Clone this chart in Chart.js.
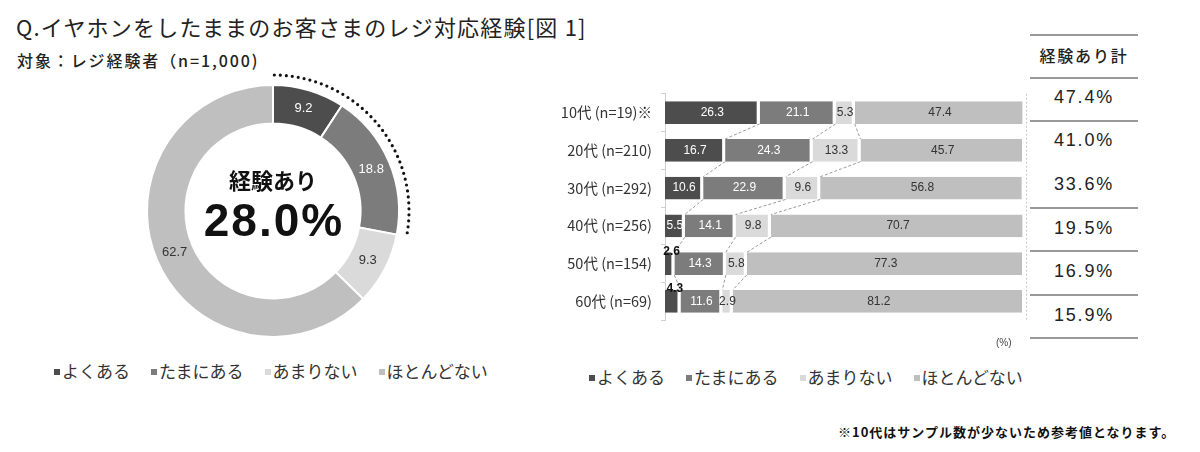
<!DOCTYPE html>
<html lang="ja">
<head>
<meta charset="utf-8">
<script src="https://cdn.jsdelivr.net/npm/chart.js@4/dist/chart.umd.min.js"></script>
<style>
  html, body { margin: 0; padding: 0; background: #fff; }
  body { width: 1200px; height: 452px; position: relative; overflow: hidden;
         font-family: "Noto Sans CJK JP", "Noto Sans", sans-serif; color: #222; }
  .abs { position: absolute; white-space: nowrap; }
  #title { left: 16px; top: 11px; font-size: 22px; line-height: 30px; letter-spacing: 1.2px; color: #222; }
  #subtitle { left: 17px; top: 50px; font-size: 16px; line-height: 20px; font-weight: 500; letter-spacing: 1.9px; }
  .legend { font-size: 17px; line-height: 22px; color: #333; }
  .legend span.sq { display: inline-block; width: 6px; height: 6px; margin-right: 2px; vertical-align: middle; position: relative; top: -1px; }
  .legend span.it { margin-right: 21px; }
  #tbl .line { position: absolute; left: 1030px; width: 108px; height: 0; border-top: 2px solid #999; }
  .cell { position: absolute; left: 1030px; width: 108px; text-align: center; font-family: "Liberation Sans", Arial, sans-serif; font-size: 18px; letter-spacing: 1.8px; color: #222; }
  #hdr { font-family: "Noto Sans CJK JP", sans-serif; font-size: 16px; font-weight: 500; letter-spacing: 1.8px; }
  #note { left: 838px; top: 422px; font-size: 13px; font-weight: 700; letter-spacing: 1px; color: #111; }
  #pct { left: 996px; top: 337px; font-size: 10px; color: #444; font-family: "Liberation Sans", Arial, sans-serif; }
</style>
</head>
<body>
<div id="title" class="abs">Q.イヤホンをしたままのお客さまのレジ対応経験[図 1]</div>
<div id="subtitle" class="abs">対象：レジ経験者（n=1,000)</div>

<canvas id="donut" class="abs" width="284" height="284" style="left:131px;top:69px;"></canvas>
<canvas id="bars" class="abs" width="490" height="262" style="left:540px;top:76px;"></canvas>

<div id="legL" class="abs legend" style="left:54px;top:360px;"></div>
<div id="legR" class="abs legend" style="left:589px;top:366px;"></div>

<div id="tbl"></div>
<div id="pct" class="abs">(%)</div>
<div id="note" class="abs">※10代はサンプル数が少ないため参考値となります。</div>

<script>
// ---------------- DATA ----------------
const seriesNames = ["よくある", "たまにある", "あまりない", "ほとんどない"];
const seriesColors = ["#4d4d4d", "#7c7c7c", "#dadada", "#bfbfbf"];

const totalValues = [9.2, 18.8, 9.3, 62.7];
const centerLabel = "経験あり";
const centerValue = "28.0%";

const ageLabels = ["10代 (n=19)※", "20代 (n=210)", "30代 (n=292)", "40代 (n=256)", "50代 (n=154)", "60代 (n=69)"];
const oftenValues     = [26.3, 16.7, 10.6, 5.5, 2.6, 4.3];
const sometimesValues = [21.1, 24.3, 22.9, 14.1, 14.3, 11.6];
const rarelyValues    = [5.3, 13.3, 9.6, 9.8, 5.8, 2.9];
const neverValues     = [47.4, 45.7, 56.8, 70.7, 77.3, 81.2];

const tableHeader = "経験あり計";
const experienceTotals = ["47.4%", "41.0%", "33.6%", "19.5%", "16.9%", "15.9%"];

// ---------------- LEGENDS ----------------
function buildLegend(id) {
  const el = document.getElementById(id);
  seriesNames.forEach((n, i) => {
    const it = document.createElement('span');
    it.className = 'it';
    it.innerHTML = '<span class="sq" style="background:' + seriesColors[i] + '"></span>' + n;
    el.appendChild(it);
  });
}
buildLegend('legL');
buildLegend('legR');

// ---------------- DONUT ----------------
const donutPlugin = {
  id: 'donutExtras',
  afterDatasetsDraw(chart) {
    const ctx = chart.ctx;
    const meta = chart.getDatasetMeta(0);
    const arcs = meta.data;
    ctx.save();
    ctx.font = '13px "Liberation Sans", Arial, sans-serif';
    ctx.textAlign = 'center';
    ctx.textBaseline = 'middle';
    arcs.forEach((a, i) => {
      const mid = (a.startAngle + a.endAngle) / 2;
      const r = (a.innerRadius + a.outerRadius) / 2;
      const x = a.x + Math.cos(mid) * r;
      const y = a.y + Math.sin(mid) * r;
      ctx.fillStyle = i < 2 ? '#ffffff' : '#333333';
      ctx.fillText(totalValues[i].toFixed(1), x, y);
    });
    const a0 = arcs[0], a1 = arcs[1];
    ctx.beginPath();
    ctx.setLineDash([0, 6]);
    ctx.lineCap = 'round';
    ctx.lineWidth = 3.2;
    ctx.strokeStyle = '#111';
    ctx.arc(a0.x, a0.y, a0.outerRadius + 10, a0.startAngle + 0.01, a1.endAngle - 0.02);
    ctx.stroke();
    ctx.setLineDash([]);
    ctx.fillStyle = '#111';
    ctx.font = 'bold 22px "Noto Sans CJK JP", sans-serif';
    ctx.fillText(centerLabel, a0.x, a0.y - 30);
    ctx.font = 'bold 46px "Liberation Sans", Arial, sans-serif';
    try { ctx.letterSpacing = '2px'; } catch (e) {}
    ctx.fillText(centerValue, a0.x + 1, a0.y + 12);
    ctx.restore();
  }
};

new Chart(document.getElementById('donut'), {
  type: 'doughnut',
  data: {
    labels: seriesNames,
    datasets: [{
      data: totalValues,
      backgroundColor: seriesColors,
      borderColor: '#ffffff',
      borderWidth: 2
    }]
  },
  options: {
    responsive: false,
    animation: false,
    radius: 126,
    cutout: 98,
    plugins: { legend: { display: false }, tooltip: { enabled: false } }
  },
  plugins: [donutPlugin]
});

// ---------------- STACKED BARS ----------------
const barSeries = [oftenValues, sometimesValues, rarelyValues, neverValues];

const barPlugin = {
  id: 'barExtras',
  afterDatasetsDraw(chart) {
    const ctx = chart.ctx;
    const xs = chart.scales.x;
    const area = chart.chartArea;
    ctx.save();
    ctx.strokeStyle = '#9a9a9a';
    ctx.lineWidth = 1;
    ctx.setLineDash([3, 2]);
    for (let k = 0; k < 3; k++) {
      const metaK = chart.getDatasetMeta(k);
      for (let i = 0; i < ageLabels.length - 1; i++) {
        let c1 = 0, c2 = 0;
        for (let j = 0; j <= k; j++) { c1 += barSeries[j][i]; c2 += barSeries[j][i + 1]; }
        const b1 = metaK.data[i], b2 = metaK.data[i + 1];
        ctx.beginPath();
        ctx.moveTo(xs.getPixelForValue(c1), b1.y + b1.height / 2);
        ctx.lineTo(xs.getPixelForValue(c2), b2.y - b2.height / 2);
        ctx.stroke();
      }
    }
    ctx.strokeStyle = '#c8c8c8';
    ctx.setLineDash([2, 2]);
    ctx.beginPath();
    const xr = xs.getPixelForValue(100) + 1.5;
    ctx.moveTo(xr, area.top);
    ctx.lineTo(xr, area.bottom);
    ctx.stroke();
    ctx.setLineDash([]);
    ctx.textAlign = 'center';
    ctx.textBaseline = 'middle';
    barSeries.forEach((vals, k) => {
      const meta = chart.getDatasetMeta(k);
      meta.data.forEach((bar, i) => {
        const v = vals[i];
        const cx = (bar.x + bar.base) / 2;
        if (k === 0 && v < 5) {
          ctx.font = 'bold 12px "Liberation Sans", Arial, sans-serif';
          ctx.fillStyle = '#111';
          ctx.fillText(v.toFixed(1), cx + 2, bar.y - bar.height / 2 - 1);
        } else {
          ctx.font = '12px "Liberation Sans", Arial, sans-serif';
          ctx.fillStyle = k < 2 ? '#ffffff' : '#333333';
          ctx.fillText(v.toFixed(1), cx, bar.y);
        }
      });
    });
    ctx.restore();
  }
};

new Chart(document.getElementById('bars'), {
  type: 'bar',
  data: {
    labels: ageLabels,
    datasets: barSeries.map((vals, k) => ({
      label: seriesNames[k],
      data: vals,
      backgroundColor: seriesColors[k],
      borderColor: '#ffffff',
      borderWidth: { left: 0, top: 0, bottom: 0, right: 3 },
      borderSkipped: false,
      barPercentage: 1,
      categoryPercentage: 0.6
    }))
  },
  options: {
    indexAxis: 'y',
    responsive: false,
    animation: false,
    layout: { padding: { left: 0, right: 5, top: 0, bottom: 0 } },
    scales: {
      x: { stacked: true, min: 0, max: 100, display: false },
      y: {
        stacked: true,
        afterFit(scale) { scale.width = 125; },
        grid: { display: true, drawOnChartArea: false, drawTicks: true, tickLength: 4, offset: true, color: '#d0d0d0' },
        border: { display: true, color: '#d0d0d0' },
        ticks: {
          padding: 9,
          color: '#333',
          font: { family: '"Noto Sans CJK JP", sans-serif', size: 14.5 }
        }
      }
    },
    plugins: { legend: { display: false }, tooltip: { enabled: false } }
  },
  plugins: [barPlugin]
});

// ---------------- TABLE ----------------
(function () {
  const tbl = document.getElementById('tbl');
  const lineYs = [34, 77, 120, 207, 250, 294, 337];
  lineYs.forEach(y => {
    const d = document.createElement('div');
    d.className = 'line';
    d.style.top = y + 'px';
    tbl.appendChild(d);
  });
  const h = document.createElement('div');
  h.className = 'cell'; h.id = 'hdr';
  h.style.top = '43px'; h.textContent = tableHeader;
  tbl.appendChild(h);
  const rowYs = [98, 141, 185, 229, 272, 316];
  experienceTotals.forEach((t, i) => {
    const c = document.createElement('div');
    c.className = 'cell';
    c.style.top = (rowYs[i] - 11) + 'px';
    c.textContent = t;
    tbl.appendChild(c);
  });
})();
</script>
</body>
</html>
